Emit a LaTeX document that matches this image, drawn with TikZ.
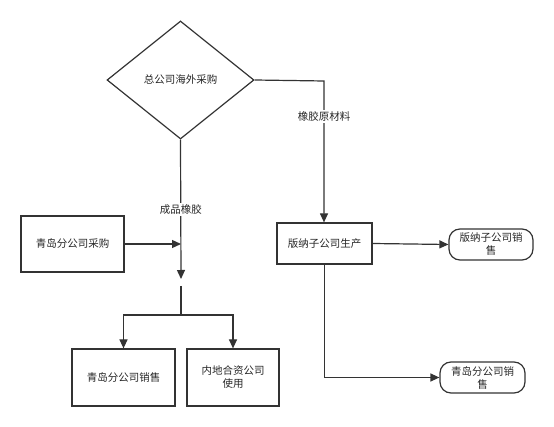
\documentclass[tikz,border=0pt]{standalone}
\usepackage{fontspec}
\setmainfont{Noto Sans CJK SC}
\usetikzlibrary{shapes.geometric,arrows.meta}
\begin{document}
\begin{tikzpicture}[x=1pt,y=-1pt,
  every node/.style={font=\fontsize{10.5pt}{13pt}\selectfont, text=black!85},
  ln/.style={draw=black!80, line width=1.2pt},
  arr/.style={ln, -{Triangle[length=9pt,width=8pt]}},
  boxn/.style={draw=black!80, line width=1.2pt, rectangle, inner sep=0pt, align=center},
  term/.style={draw=black!80, line width=1.2pt, rectangle, rounded corners=11pt, inner sep=0pt, align=center},
  lab/.style={fill=white, inner sep=1.5pt}]
\useasboundingbox (0,0) rectangle (554,427);
\node[draw=black!80, line width=1.2pt, diamond, minimum width=147pt, minimum height=118pt, inner sep=0pt] (dia) at (180.5,80) {总公司海外采购};
\node[boxn, minimum width=103pt, minimum height=56pt] (buy) at (72.5,244) {青岛分公司采购};
\node[boxn, minimum width=103pt, minimum height=57pt] (qsale) at (123.5,377.5) {青岛分公司销售};
\node[boxn, minimum width=92pt, minimum height=57pt] (nd) at (233,377.5) {内地合资公司\\使用};
\node[boxn, minimum width=95pt, minimum height=41pt] (bn) at (324.5,243.5) {版纳子公司生产};
\node[term, minimum width=84pt, minimum height=31pt] (bns) at (491,244.5) {版纳子公司销\\售};
\node[term, minimum width=85pt, minimum height=31pt] (qs2) at (482.5,377.5) {青岛分公司销\\售};
\coordinate (t1) at (181,279);
\coordinate (j1) at (181,286);
\coordinate (j2) at (181,315);
\coordinate (c1) at (324,81);
% left trunk
\draw[arr] (dia.south) -- node[lab, pos=0.5] {成品橡胶} (t1);
\draw[arr] (buy.east) -- (buy.east -| t1);
\draw[ln] (j1) -- (j2);
\draw[arr] (j2) -| (qsale.north);
\draw[arr] (j2) -| (nd.north);
% right branch
\draw[arr] (dia.east) -- (c1) -- node[lab, pos=0.25] {橡胶原材料} (c1 |- bn.north);
\draw[arr] (bn.east) -- (bns.west);
\draw[arr] (bn.south) |- (qs2.west);
\end{tikzpicture}
\end{document}
